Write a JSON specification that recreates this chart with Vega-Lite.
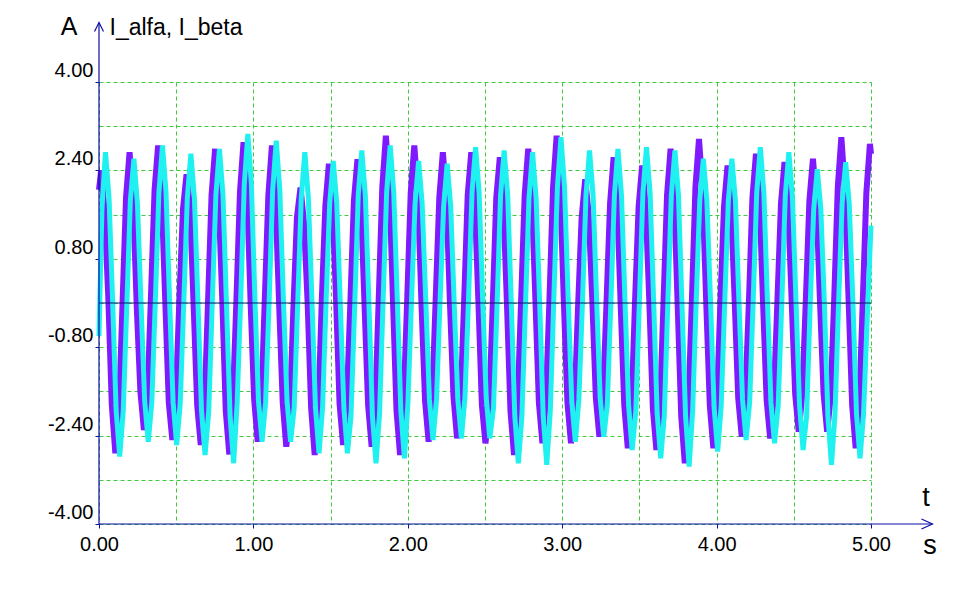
{
  "$schema": "https://vega.github.io/schema/vega-lite/v6.json",
  "width": 772,
  "height": 442,
  "autosize": {"type": "none"},
  "padding": {"left": 99, "top": 82, "right": 82, "bottom": 67},
  "background": "white",
  "config": {"view": {"stroke": null}, "font": "Liberation Sans"},
  "datasets": {
    "alfa": [
      {"t":0,"v":2.05},{"t":0.014,"v":2.40},{"t":0.037,"v":1.62},{"t":0.060,"v":0.12},{"t":0.083,"v":-1.85},{"t":0.106,"v":-2.72},{"t":0.129,"v":-1.98},{"t":0.152,"v":-0.05},{"t":0.175,"v":1.90},
      {"t":0.198,"v":2.73},{"t":0.221,"v":1.85},{"t":0.245,"v":-0.10},{"t":0.268,"v":-1.60},{"t":0.291,"v":-2.30},{"t":0.314,"v":-1.70},{"t":0.337,"v":0.15},{"t":0.360,"v":2.05},
      {"t":0.383,"v":2.85},{"t":0.406,"v":1.95},{"t":0.429,"v":0.05},{"t":0.452,"v":-1.80},{"t":0.475,"v":-2.48},{"t":0.498,"v":-1.72},{"t":0.521,"v":0.10},{"t":0.544,"v":1.70},
      {"t":0.567,"v":2.33},{"t":0.590,"v":1.72},{"t":0.613,"v":-0.05},{"t":0.636,"v":-1.85},{"t":0.659,"v":-2.57},{"t":0.683,"v":-1.90},{"t":0.706,"v":0.00},{"t":0.729,"v":1.95},
      {"t":0.752,"v":2.79},{"t":0.775,"v":1.88},{"t":0.798,"v":0.10},{"t":0.821,"v":-1.95},{"t":0.844,"v":-2.74},{"t":0.867,"v":-1.80},{"t":0.890,"v":0.05},{"t":0.913,"v":2.00},
      {"t":0.936,"v":2.91},{"t":0.959,"v":2.05},{"t":0.982,"v":0.00},{"t":1.005,"v":-1.75},{"t":1.028,"v":-2.51},{"t":1.051,"v":-1.85},{"t":1.074,"v":0.08},{"t":1.097,"v":1.95},
      {"t":1.120,"v":2.85},{"t":1.143,"v":1.90},{"t":1.167,"v":-0.05},{"t":1.190,"v":-1.80},{"t":1.213,"v":-2.60},{"t":1.236,"v":-1.95},{"t":1.259,"v":-0.10},{"t":1.282,"v":1.55},
      {"t":1.305,"v":2.09},{"t":1.328,"v":1.45},{"t":1.351,"v":0.02},{"t":1.374,"v":-1.90},{"t":1.397,"v":-2.75},{"t":1.420,"v":-2.00},{"t":1.443,"v":0.05},{"t":1.466,"v":1.75},
      {"t":1.489,"v":2.52},{"t":1.512,"v":1.80},{"t":1.535,"v":0.10},{"t":1.558,"v":-1.82},{"t":1.581,"v":-2.57},{"t":1.605,"v":-1.80},{"t":1.628,"v":0.00},{"t":1.651,"v":1.85},
      {"t":1.674,"v":2.60},{"t":1.697,"v":1.80},{"t":1.720,"v":-0.05},{"t":1.743,"v":-1.85},{"t":1.766,"v":-2.60},{"t":1.789,"v":-1.92},{"t":1.812,"v":0.10},{"t":1.835,"v":2.10},
      {"t":1.858,"v":3.03},{"t":1.881,"v":2.10},{"t":1.904,"v":0.05},{"t":1.927,"v":-1.95},{"t":1.950,"v":-2.75},{"t":1.973,"v":-1.80},{"t":1.996,"v":0.05},{"t":2.019,"v":2.00},
      {"t":2.042,"v":2.85},{"t":2.066,"v":1.95},{"t":2.089,"v":-0.05},{"t":2.112,"v":-1.78},{"t":2.135,"v":-2.51},{"t":2.158,"v":-1.75},{"t":2.181,"v":0.10},{"t":2.204,"v":1.90},
      {"t":2.227,"v":2.73},{"t":2.250,"v":1.90},{"t":2.273,"v":0.00},{"t":2.296,"v":-1.70},{"t":2.319,"v":-2.45},{"t":2.342,"v":-1.80},{"t":2.365,"v":0.05},{"t":2.388,"v":1.95},
      {"t":2.411,"v":2.73},{"t":2.434,"v":1.85},{"t":2.457,"v":0.05},{"t":2.480,"v":-1.85},{"t":2.503,"v":-2.54},{"t":2.527,"v":-1.90},{"t":2.550,"v":-0.05},{"t":2.573,"v":1.90},
      {"t":2.596,"v":2.64},{"t":2.619,"v":1.80},{"t":2.642,"v":0.00},{"t":2.665,"v":-1.95},{"t":2.688,"v":-2.75},{"t":2.711,"v":-1.85},{"t":2.734,"v":0.05},{"t":2.757,"v":1.95},
      {"t":2.780,"v":2.79},{"t":2.803,"v":1.95},{"t":2.826,"v":0.10},{"t":2.849,"v":-1.80},{"t":2.872,"v":-2.54},{"t":2.895,"v":-1.75},{"t":2.918,"v":0.10},{"t":2.941,"v":2.10},
      {"t":2.964,"v":3.03},{"t":2.987,"v":2.05},{"t":3.011,"v":0.00},{"t":3.034,"v":-1.80},{"t":3.057,"v":-2.54},{"t":3.080,"v":-1.85},{"t":3.103,"v":-0.05},{"t":3.126,"v":1.55},
      {"t":3.149,"v":2.24},{"t":3.172,"v":1.60},{"t":3.195,"v":0.05},{"t":3.218,"v":-1.72},{"t":3.241,"v":-2.42},{"t":3.264,"v":-1.75},{"t":3.287,"v":0.00},{"t":3.310,"v":1.80},
      {"t":3.333,"v":2.64},{"t":3.356,"v":1.85},{"t":3.379,"v":-0.05},{"t":3.402,"v":-1.85},{"t":3.425,"v":-2.63},{"t":3.449,"v":-1.90},{"t":3.472,"v":0.05},{"t":3.495,"v":1.75},
      {"t":3.518,"v":2.49},{"t":3.541,"v":1.75},{"t":3.564,"v":0.05},{"t":3.587,"v":-1.90},{"t":3.610,"v":-2.66},{"t":3.633,"v":-1.95},{"t":3.656,"v":0.00},{"t":3.679,"v":1.95},
      {"t":3.702,"v":2.79},{"t":3.725,"v":1.95},{"t":3.748,"v":-0.05},{"t":3.771,"v":-2.05},{"t":3.794,"v":-2.90},{"t":3.817,"v":-1.90},{"t":3.840,"v":0.05},{"t":3.863,"v":2.10},
      {"t":3.886,"v":2.97},{"t":3.909,"v":2.05},{"t":3.933,"v":0.00},{"t":3.956,"v":-1.85},{"t":3.979,"v":-2.63},{"t":4.002,"v":-1.85},{"t":4.025,"v":0.05},{"t":4.048,"v":1.75},
      {"t":4.071,"v":2.49},{"t":4.094,"v":1.75},{"t":4.117,"v":0.05},{"t":4.140,"v":-1.72},{"t":4.163,"v":-2.42},{"t":4.186,"v":-1.72},{"t":4.209,"v":0.00},{"t":4.232,"v":1.90},
      {"t":4.255,"v":2.70},{"t":4.278,"v":1.85},{"t":4.301,"v":0.00},{"t":4.324,"v":-1.75},{"t":4.347,"v":-2.45},{"t":4.371,"v":-1.70},{"t":4.394,"v":0.05},{"t":4.417,"v":1.80},
      {"t":4.440,"v":2.55},{"t":4.463,"v":1.80},{"t":4.486,"v":0.05},{"t":4.509,"v":-1.65},{"t":4.532,"v":-2.33},{"t":4.555,"v":-1.65},{"t":4.578,"v":0.05},{"t":4.601,"v":1.85},
      {"t":4.624,"v":2.61},{"t":4.647,"v":1.80},{"t":4.670,"v":0.00},{"t":4.693,"v":-1.65},{"t":4.716,"v":-2.33},{"t":4.739,"v":-1.70},{"t":4.762,"v":0.10},{"t":4.785,"v":2.10},
      {"t":4.808,"v":3.00},{"t":4.831,"v":2.05},{"t":4.855,"v":0.05},{"t":4.878,"v":-1.85},{"t":4.901,"v":-2.63},{"t":4.924,"v":-1.85},{"t":4.947,"v":0.05},{"t":4.970,"v":2.00},
      {"t":4.993,"v":2.88},{"t":5.000,"v":2.70}
    ],
    "beta": [
      {"t":0,"v":-0.6},{"t":0.019,"v":1.70},
      {"t":0.042,"v":2.73},{"t":0.065,"v":1.90},{"t":0.088,"v":0.05},{"t":0.111,"v":-1.95},{"t":0.134,"v":-2.78},{"t":0.157,"v":-1.95},{"t":0.180,"v":-0.05},{"t":0.203,"v":1.85},
      {"t":0.226,"v":2.61},{"t":0.249,"v":1.80},{"t":0.272,"v":0.00},{"t":0.296,"v":-1.78},{"t":0.319,"v":-2.51},{"t":0.342,"v":-1.80},{"t":0.365,"v":0.05},{"t":0.388,"v":2.00},
      {"t":0.411,"v":2.85},{"t":0.434,"v":2.00},{"t":0.457,"v":0.05},{"t":0.480,"v":-1.80},{"t":0.503,"v":-2.57},{"t":0.526,"v":-1.82},{"t":0.549,"v":0.00},{"t":0.572,"v":1.90},
      {"t":0.595,"v":2.70},{"t":0.618,"v":1.90},{"t":0.641,"v":0.00},{"t":0.664,"v":-1.95},{"t":0.687,"v":-2.75},{"t":0.711,"v":-1.95},{"t":0.734,"v":0.05},{"t":0.757,"v":1.95},
      {"t":0.780,"v":2.79},{"t":0.803,"v":1.95},{"t":0.826,"v":-0.05},{"t":0.849,"v":-2.05},{"t":0.872,"v":-2.90},{"t":0.895,"v":-1.80},{"t":0.918,"v":0.10},{"t":0.941,"v":2.15},
      {"t":0.964,"v":3.06},{"t":0.987,"v":2.15},{"t":1.010,"v":0.05},{"t":1.033,"v":-1.78},{"t":1.056,"v":-2.51},{"t":1.079,"v":-1.80},{"t":1.102,"v":0.05},{"t":1.125,"v":2.05},
      {"t":1.148,"v":2.94},{"t":1.171,"v":2.05},{"t":1.195,"v":0.00},{"t":1.218,"v":-1.78},{"t":1.241,"v":-2.51},{"t":1.264,"v":-1.90},{"t":1.287,"v":0.00},{"t":1.310,"v":1.90},
      {"t":1.333,"v":2.73},{"t":1.356,"v":1.90},{"t":1.379,"v":0.05},{"t":1.402,"v":-1.90},{"t":1.425,"v":-2.72},{"t":1.448,"v":-1.90},{"t":1.471,"v":0.05},{"t":1.494,"v":1.80},
      {"t":1.517,"v":2.57},{"t":1.540,"v":1.80},{"t":1.563,"v":-0.05},{"t":1.586,"v":-1.90},{"t":1.609,"v":-2.72},{"t":1.632,"v":-2.05},{"t":1.656,"v":-0.05},{"t":1.679,"v":1.95},
      {"t":1.702,"v":2.76},{"t":1.725,"v":1.95},{"t":1.748,"v":0.00},{"t":1.771,"v":-2.05},{"t":1.794,"v":-2.90},{"t":1.817,"v":-2.00},{"t":1.840,"v":0.05},{"t":1.863,"v":2.00},
      {"t":1.886,"v":2.85},{"t":1.909,"v":2.00},{"t":1.932,"v":0.05},{"t":1.955,"v":-1.95},{"t":1.978,"v":-2.81},{"t":2.001,"v":-1.80},{"t":2.024,"v":0.05},{"t":2.047,"v":1.80},
      {"t":2.070,"v":2.57},{"t":2.093,"v":1.80},{"t":2.117,"v":0.00},{"t":2.140,"v":-1.75},{"t":2.163,"v":-2.48},{"t":2.186,"v":-1.75},{"t":2.209,"v":0.05},{"t":2.232,"v":1.75},
      {"t":2.255,"v":2.52},{"t":2.278,"v":1.75},{"t":2.301,"v":-0.05},{"t":2.324,"v":-1.75},{"t":2.347,"v":-2.45},{"t":2.370,"v":-1.72},{"t":2.393,"v":0.05},{"t":2.416,"v":2.00},
      {"t":2.439,"v":2.82},{"t":2.462,"v":2.00},{"t":2.485,"v":0.05},{"t":2.508,"v":-1.72},{"t":2.531,"v":-2.45},{"t":2.555,"v":-1.90},{"t":2.578,"v":-0.05},{"t":2.601,"v":1.95},
      {"t":2.624,"v":2.76},{"t":2.647,"v":1.95},{"t":2.670,"v":0.00},{"t":2.693,"v":-2.05},{"t":2.716,"v":-2.90},{"t":2.739,"v":-2.05},{"t":2.762,"v":-0.05},{"t":2.785,"v":1.90},
      {"t":2.808,"v":2.73},{"t":2.831,"v":1.90},{"t":2.854,"v":0.00},{"t":2.877,"v":-2.05},{"t":2.900,"v":-2.93},{"t":2.923,"v":-1.95},{"t":2.946,"v":0.10},{"t":2.969,"v":2.10},
      {"t":2.992,"v":3.00},{"t":3.015,"v":2.10},{"t":3.039,"v":0.05},{"t":3.062,"v":-1.78},{"t":3.085,"v":-2.51},{"t":3.108,"v":-1.75},{"t":3.131,"v":0.00},{"t":3.154,"v":1.95},
      {"t":3.177,"v":2.76},{"t":3.200,"v":1.95},{"t":3.223,"v":0.05},{"t":3.246,"v":-1.72},{"t":3.269,"v":-2.42},{"t":3.292,"v":-1.85},{"t":3.315,"v":0.00},{"t":3.338,"v":1.95},
      {"t":3.361,"v":2.79},{"t":3.384,"v":1.95},{"t":3.407,"v":0.00},{"t":3.430,"v":-1.85},{"t":3.453,"v":-2.66},{"t":3.477,"v":-1.95},{"t":3.500,"v":0.05},{"t":3.523,"v":2.00},
      {"t":3.546,"v":2.82},{"t":3.569,"v":2.00},{"t":3.592,"v":0.05},{"t":3.615,"v":-2.00},{"t":3.638,"v":-2.81},{"t":3.661,"v":-2.05},{"t":3.684,"v":0.00},{"t":3.707,"v":1.95},
      {"t":3.730,"v":2.76},{"t":3.753,"v":1.95},{"t":3.776,"v":-0.05},{"t":3.799,"v":-2.05},{"t":3.822,"v":-2.96},{"t":3.845,"v":-1.95},{"t":3.868,"v":0.05},{"t":3.891,"v":1.85},
      {"t":3.914,"v":2.61},{"t":3.937,"v":1.85},{"t":3.961,"v":0.00},{"t":3.984,"v":-1.90},{"t":4.007,"v":-2.69},{"t":4.030,"v":-1.85},{"t":4.053,"v":0.05},{"t":4.076,"v":1.85},
      {"t":4.099,"v":2.61},{"t":4.122,"v":1.85},{"t":4.145,"v":0.00},{"t":4.168,"v":-1.75},{"t":4.191,"v":-2.48},{"t":4.214,"v":-1.80},{"t":4.237,"v":0.05},{"t":4.260,"v":2.00},
      {"t":4.283,"v":2.82},{"t":4.306,"v":2.00},{"t":4.329,"v":0.05},{"t":4.352,"v":-1.80},{"t":4.375,"v":-2.54},{"t":4.399,"v":-1.85},{"t":4.422,"v":0.00},{"t":4.445,"v":1.95},
      {"t":4.468,"v":2.73},{"t":4.491,"v":1.92},{"t":4.514,"v":0.05},{"t":4.537,"v":-1.85},{"t":4.560,"v":-2.66},{"t":4.583,"v":-2.05},{"t":4.606,"v":-0.05},{"t":4.629,"v":1.70},
      {"t":4.652,"v":2.42},{"t":4.675,"v":1.70},{"t":4.698,"v":0.00},{"t":4.721,"v":-2.05},{"t":4.744,"v":-2.93},{"t":4.767,"v":-2.00},{"t":4.790,"v":0.00},{"t":4.813,"v":1.80},
      {"t":4.836,"v":2.55},{"t":4.859,"v":1.80},{"t":4.883,"v":0.00},{"t":4.906,"v":-2.00},{"t":4.929,"v":-2.81},{"t":4.952,"v":-2.00},{"t":4.975,"v":-0.30},{"t":5.000,"v":1.40}
    ]
  },
  "layer": [
    {
      "data": {"name": "alfa"},
      "mark": {"type": "line", "color": "#7f1aff", "strokeWidth": 6, "strokeJoin": "miter", "strokeMiterLimit": 3},
      "encoding": {
        "x": {
          "field": "t", "type": "quantitative", "title": null,
          "scale": {"domain": [0, 5], "nice": false, "zero": false},
          "axis": {
            "values": [0, 0.5, 1, 1.5, 2, 2.5, 3, 3.5, 4, 4.5, 5],
            "labelExpr": "datum.value % 1 === 0 ? format(datum.value, '.2f') : ''",
            "title": null, "domain": false,
            "grid": true, "gridColor": "#3ccc3c", "gridDash": [4, 3], "gridWidth": 1,
            "ticks": true, "tickColor": "#0c0caa", "tickSize": 4, "tickWidth": 1,
            "tickOpacity": {"condition": {"test": "datum.value % 1 === 0", "value": 1}, "value": 0},
            "labelFont": "Liberation Sans", "labelFontSize": 20, "labelColor": "#000000",
            "labelPadding": 6.5, "labelFlush": false, "labelOverlap": false
          }
        },
        "y": {
          "field": "v", "type": "quantitative", "title": null,
          "scale": {"domain": [-4, 4], "nice": false, "zero": false},
          "axis": {
            "values": [-4, -3.2, -2.4, -1.6, -0.8, 0, 0.8, 1.6, 2.4, 3.2, 4],
            "labelExpr": "indexof([4, 2.4, 0.8, -0.8, -2.4, -4], datum.value) >= 0 ? (datum.value < 0 ? '-' : '') + format(abs(datum.value), '.2f') : ''",
            "title": null, "domain": false,
            "grid": true, "gridColor": "#3ccc3c", "gridDash": [4, 3], "gridWidth": 1,
            "ticks": true, "tickColor": "#0c0caa", "tickSize": 4, "tickWidth": 1,
            "tickOpacity": {"condition": {"test": "indexof([4, 2.4, 0.8, -0.8, -2.4, -4], datum.value) >= 0", "value": 1}, "value": 0},
            "labelFont": "Liberation Sans", "labelFontSize": 20, "labelColor": "#000000",
            "labelAlign": "right", "labelBaseline": "alphabetic", "labelOffset": -5.5,
            "labelPadding": 2, "labelFlush": false, "labelOverlap": false
          }
        }
      }
    },
    {
      "data": {"name": "beta"},
      "mark": {"type": "line", "color": "#1ff0f0", "strokeWidth": 5, "strokeJoin": "miter", "strokeMiterLimit": 3},
      "encoding": {
        "x": {"field": "t", "type": "quantitative", "title": null},
        "y": {"field": "v", "type": "quantitative", "title": null}
      }
    },
    {
      "data": {"values": [{}]},
      "mark": {"type": "rule", "color": "#10106e", "strokeWidth": 1.2},
      "encoding": {"y": {"datum": 0, "type": "quantitative", "title": null}}
    },
    {
      "data": {"values": [{}]},
      "mark": {"type": "rule", "color": "#0c0caa", "strokeWidth": 1.2},
      "encoding": {
        "x": {"datum": 0, "type": "quantitative", "title": null},
        "y": {"datum": -4, "type": "quantitative", "title": null},
        "y2": {"datum": 5.077}
      }
    },
    {
      "data": {"values": [{}]},
      "mark": {"type": "rule", "color": "#0c0caa", "strokeWidth": 1.2},
      "encoding": {
        "x": {"datum": 0, "type": "quantitative", "title": null},
        "x2": {"datum": 5.398},
        "y": {"datum": -4, "type": "quantitative", "title": null}
      }
    },
    {
      "data": {"values": [{}]},
      "mark": {"type": "point", "shape": "M -1 2 L 0 0 L 1 2", "size": 81, "filled": false, "stroke": "#0c0caa", "strokeWidth": 1.2, "opacity": 1},
      "encoding": {
        "x": {"datum": 0, "type": "quantitative", "title": null},
        "y": {"datum": 5.077, "type": "quantitative", "title": null}
      }
    },
    {
      "data": {"values": [{}]},
      "mark": {"type": "point", "shape": "M -2.2 -1 L 0 0 L -2.2 1", "size": 100, "filled": false, "stroke": "#0c0caa", "strokeWidth": 1.2, "opacity": 1},
      "encoding": {
        "x": {"datum": 5.398, "type": "quantitative", "title": null},
        "y": {"datum": -4, "type": "quantitative", "title": null}
      }
    },
    {
      "data": {"values": [{"label": "A"}]},
      "mark": {"type": "text", "font": "Liberation Sans", "fontSize": 25, "align": "center", "baseline": "alphabetic", "color": "#000000"},
      "encoding": {
        "x": {"datum": -0.193, "type": "quantitative", "title": null},
        "y": {"datum": 4.842, "type": "quantitative", "title": null},
        "text": {"field": "label"}
      }
    },
    {
      "data": {"values": [{"label": "I_alfa, I_beta"}]},
      "mark": {"type": "text", "font": "Liberation Sans", "fontSize": 23, "align": "left", "baseline": "alphabetic", "color": "#000000"},
      "encoding": {
        "x": {"datum": 0.068, "type": "quantitative", "title": null},
        "y": {"datum": 4.842, "type": "quantitative", "title": null},
        "text": {"field": "label"}
      }
    },
    {
      "data": {"values": [{"label": "t"}]},
      "mark": {"type": "text", "font": "Liberation Sans", "fontSize": 27, "align": "center", "baseline": "alphabetic", "color": "#000000"},
      "encoding": {
        "x": {"datum": 5.356, "type": "quantitative", "title": null},
        "y": {"datum": -3.683, "type": "quantitative", "title": null},
        "text": {"field": "label"}
      }
    },
    {
      "data": {"values": [{"label": "s"}]},
      "mark": {"type": "text", "font": "Liberation Sans", "fontSize": 27, "align": "center", "baseline": "alphabetic", "color": "#000000"},
      "encoding": {
        "x": {"datum": 5.382, "type": "quantitative", "title": null},
        "y": {"datum": -4.552, "type": "quantitative", "title": null},
        "text": {"field": "label"}
      }
    }
  ]
}
